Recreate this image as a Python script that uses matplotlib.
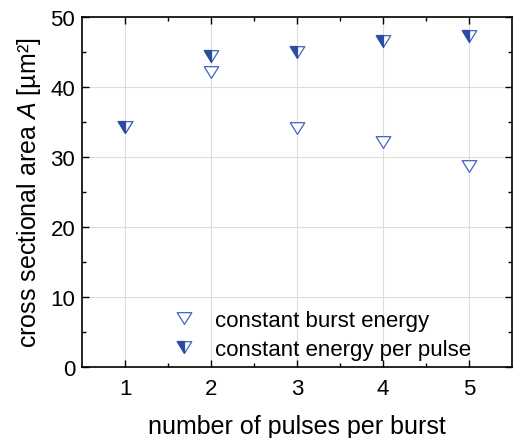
import numpy as np
import matplotlib.pyplot as plt
from matplotlib.path import Path
from matplotlib.lines import Line2D

plt.rcParams['font.family'] = ['Liberation Sans', 'DejaVu Sans']
plt.rcParams['mathtext.fontset'] = 'custom'
plt.rcParams['mathtext.rm'] = 'Liberation Sans'
plt.rcParams['mathtext.it'] = 'Liberation Sans:italic'

# pulses per burst and measured cross sections (um^2)
pulses = [1, 2, 3, 4, 5]
area_burst_energy = [34.3, 42.1, 34.1, 32.2, 28.7]
area_pulse_energy = [34.3, 44.5, 45.0, 46.6, 47.3]

fill_blue = '#2b4da1'
edge_blue = '#4163c0'

# flattened downward triangle and its left half
tri = Path([(-1, 0.8), (1, 0.8), (0, -0.8), (-1, 0.8)],
           [Path.MOVETO, Path.LINETO, Path.LINETO, Path.CLOSEPOLY])
tri_left = Path([(-1, 0.8), (0, 0.8), (0, -0.8), (-1, 0.8)],
                [Path.MOVETO, Path.LINETO, Path.LINETO, Path.CLOSEPOLY])

fig = plt.figure(figsize=(5.13, 4.39), dpi=100)
ax = fig.add_axes([0.160, 0.1617, 0.838, 0.7973])

ms = 10.5
open_kw = dict(linestyle='none', marker=tri, markersize=ms, markerfacecolor='white',
               markeredgecolor=edge_blue, markeredgewidth=0.9)
ax.plot(pulses, area_burst_energy, zorder=3, **open_kw)
ax.plot(pulses, area_pulse_energy, zorder=4, **open_kw)
half_kw = dict(linestyle='none', marker=tri_left, markersize=ms, markerfacecolor=fill_blue,
               markeredgecolor=fill_blue, markeredgewidth=0.9)
ax.plot(pulses, area_pulse_energy, zorder=5, **half_kw)

ax.set_xlim(0.5, 5.5)
ax.set_ylim(0, 50)
ax.set_xticks(pulses)
ax.set_yticks(np.arange(0, 51, 10))
ax.set_xticks(np.arange(1.5, 5.5, 1), minor=True)
ax.set_yticks(np.arange(5, 50, 10), minor=True)
ax.grid(True, which='major', color='#dddddd', linewidth=0.8)
ax.set_axisbelow(True)

ax.tick_params(which='both', direction='in', top=True, right=True, labelsize=16)
ax.tick_params(which='major', length=5, width=1.0)
ax.tick_params(which='minor', length=3, width=1.0)
ax.tick_params(axis='x', pad=8)
ax.tick_params(axis='y', pad=5)
for s in ax.spines.values():
    s.set_linewidth(1.2)

ax.set_xlabel('number of pulses per burst', fontsize=18, labelpad=11)
ax.set_ylabel('cross sectional area $A$ [µm²]', fontsize=18, labelpad=5)

h_open = Line2D([], [], **open_kw)
h_half = (Line2D([], [], **open_kw), Line2D([], [], **half_kw))
ax.legend([h_open, h_half], ['constant burst energy', 'constant energy per pulse'],
          loc='lower left', bbox_to_anchor=(0.19, -0.005), frameon=False, fontsize=16,
          handlelength=1.0, handletextpad=0.9, labelspacing=0.35, borderaxespad=0.0)

fig.savefig('out.png', dpi=100)
